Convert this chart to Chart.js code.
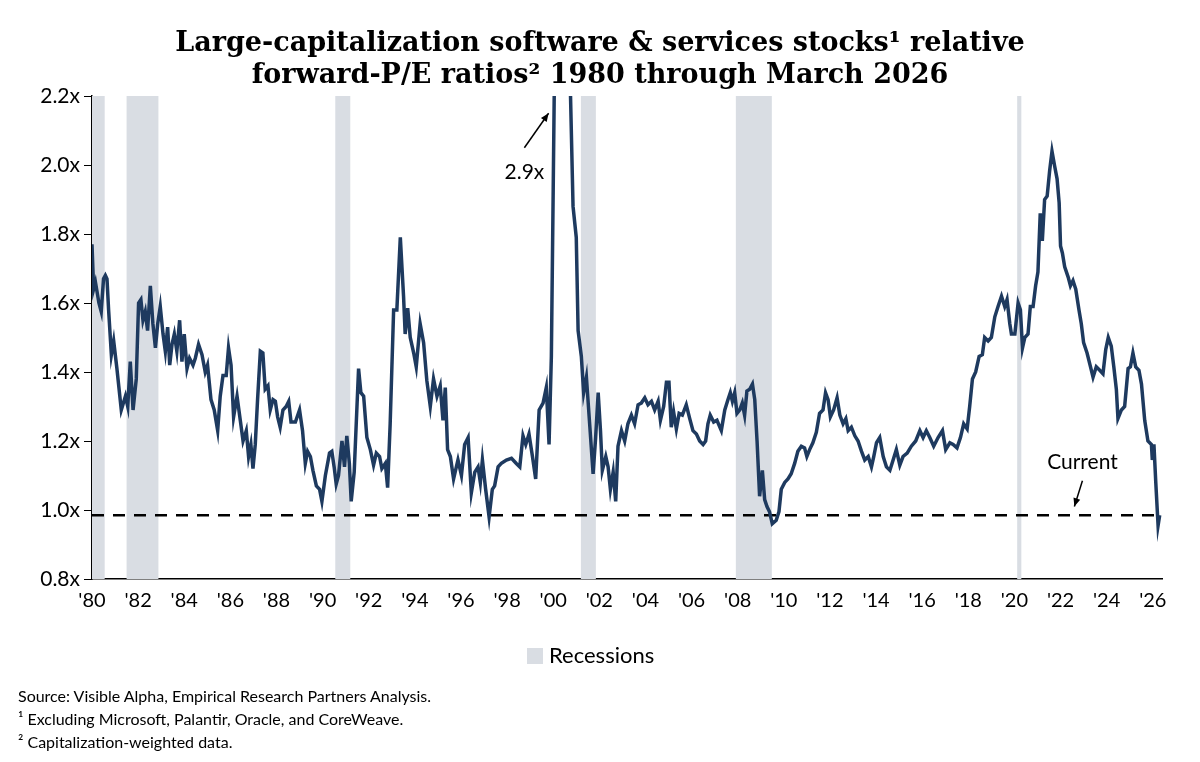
<!DOCTYPE html>
<html>
<head>
<meta charset="utf-8">
<script src="https://cdn.jsdelivr.net/npm/chart.js@4"></script>
<style>
  body { margin: 0; background: #fff; width: 1200px; height: 762px; position: relative; overflow: hidden; font-family: Lato, "DejaVu Sans", sans-serif; }
  #title { position: absolute; top: 26px; left: 0; width: 1200px; text-align: center; font-family: "DejaVu Serif", serif; font-weight: bold; font-size: 27px; line-height: 32px; color: #000; }
  #wrap { position: absolute; left: 0; top: 0; width: 1200px; height: 762px; }
  #legend { position: absolute; top: 641px; left: 527px; font-size: 22px; color: #000; }
  #legend span { display: inline-block; width: 16px; height: 16px; background: #d9dde3; margin-right: 6px; vertical-align: -1px; }
  #notes { position: absolute; left: 18px; top: 684px; font-size: 16px; line-height: 23px; color: #000; }
</style>
</head>
<body>
<div id="wrap"><canvas id="c" width="1200" height="762"></canvas></div>
<div id="title">Large-capitalization software &amp; services stocks¹ relative<br>forward-P/E ratios² 1980 through March 2026</div>
<div id="legend"><span></span>Recessions</div>
<div id="notes">Source: Visible Alpha, Empirical Research Partners Analysis.<br>¹ Excluding Microsoft, Palantir, Oracle, and CoreWeave.<br>² Capitalization-weighted data.</div>
<script>
// year (decimal) and relative forward P/E
const years = [
  1980.0,1980.07,1980.15,1980.3,1980.4,1980.5,1980.58,1980.65,1980.72,1980.84,1980.94,1981.08,1981.27,1981.45,1981.55,1981.66,1981.78,1981.92,
  1982.02,1982.12,1982.21,1982.31,1982.41,1982.53,1982.64,1982.75,1982.85,1982.96,1983.08,1983.18,1983.28,1983.37,1983.47,1983.57,1983.68,1983.8,1983.9,
  1984.0,1984.12,1984.23,1984.38,1984.48,1984.62,1984.77,1984.91,1985.01,1985.16,1985.3,1985.45,1985.56,1985.68,1985.82,1985.92,
  1986.03,1986.14,1986.29,1986.43,1986.55,1986.69,1986.79,1986.89,1986.98,1987.08,1987.18,1987.3,1987.41,1987.51,1987.63,1987.73,1987.85,1987.95,
  1988.05,1988.16,1988.28,1988.42,1988.53,1988.63,1988.82,1989.0,1989.13,1989.25,1989.35,1989.47,1989.58,1989.73,1989.87,1989.97,
  1990.12,1990.3,1990.4,1990.5,1990.59,1990.69,1990.84,1990.95,1991.05,1991.16,1991.24,1991.37,1991.56,1991.66,1991.78,1991.92,
  1992.07,1992.21,1992.33,1992.47,1992.57,1992.72,1992.82,1992.93,1993.08,1993.22,1993.37,1993.51,1993.58,1993.69,1993.8,1993.95,
  1994.06,1994.23,1994.38,1994.52,1994.67,1994.81,1994.96,1995.1,1995.22,1995.32,1995.42,1995.54,1995.68,1995.87,
  1996.02,1996.16,1996.31,1996.45,1996.6,1996.74,1996.84,1996.93,1997.07,1997.22,1997.36,1997.46,1997.61,1997.75,1997.97,
  1998.19,1998.4,1998.55,1998.69,1998.81,1998.95,1999.1,1999.24,1999.39,1999.56,1999.7,1999.82,1999.92,
  2000.0,2000.1,2000.25,2000.4,2000.55,2000.7,2000.86,2001.0,2001.08,2001.22,2001.32,2001.44,2001.58,2001.73,2001.84,2001.95,
  2002.05,2002.13,2002.28,2002.38,2002.48,2002.6,2002.71,2002.81,2002.96,2003.1,2003.24,2003.39,2003.53,2003.68,2003.82,2003.97,
  2004.11,2004.26,2004.4,2004.55,2004.65,2004.79,2004.91,2005.02,2005.12,2005.22,2005.34,2005.46,2005.6,2005.77,2005.92,
  2006.06,2006.21,2006.35,2006.5,2006.61,2006.71,2006.81,2006.96,2007.1,2007.29,2007.44,2007.58,2007.68,2007.77,2007.87,2007.97,
  2008.09,2008.2,2008.3,2008.4,2008.52,2008.64,2008.74,2008.84,2008.95,2009.07,2009.17,2009.27,2009.38,2009.5,2009.67,2009.79,2009.89,
  2010.04,2010.18,2010.32,2010.47,2010.61,2010.76,2010.9,2011.0,2011.12,2011.26,2011.41,2011.55,2011.7,2011.81,2011.92,
  2012.02,2012.16,2012.31,2012.43,2012.57,2012.69,2012.79,2012.93,2013.08,2013.22,2013.37,2013.51,2013.66,2013.8,2013.9,
  2014.02,2014.16,2014.31,2014.45,2014.6,2014.74,2014.88,2015.03,2015.17,2015.35,2015.53,2015.72,2015.9,
  2016.04,2016.18,2016.33,2016.5,2016.69,2016.88,2017.02,2017.2,2017.34,2017.51,2017.66,2017.8,2017.95,
  2018.06,2018.18,2018.32,2018.47,2018.61,2018.71,2018.86,2019.0,2019.15,2019.29,2019.44,2019.58,2019.68,2019.8,2019.87,
  2020.02,2020.16,2020.26,2020.35,2020.45,2020.59,2020.69,2020.81,2020.92,2021.02,2021.12,2021.21,2021.31,2021.42,2021.53,2021.63,2021.75,2021.85,2021.94,
  2022.0,2022.08,2022.18,2022.33,2022.43,2022.54,2022.66,2022.8,2022.9,2023.0,2023.15,2023.3,2023.41,2023.55,2023.7,2023.84,2023.96,
  2024.07,2024.2,2024.31,2024.42,2024.49,2024.64,2024.78,2024.93,2025.03,2025.14,2025.26,2025.4,2025.51,2025.65,2025.79,2025.94,2025.98,
  2026.05,2026.13,2026.23,2026.3
];
const relPE = [
  1.77,1.64,1.66,1.60,1.575,1.67,1.68,1.67,1.58,1.45,1.49,1.41,1.29,1.33,1.30,1.43,1.29,1.38,
  1.60,1.61,1.55,1.575,1.52,1.65,1.54,1.47,1.54,1.59,1.51,1.46,1.53,1.42,1.48,1.51,1.46,1.55,1.43,
  1.51,1.41,1.44,1.42,1.44,1.48,1.45,1.40,1.42,1.32,1.29,1.23,1.33,1.39,1.39,1.47,
  1.42,1.27,1.33,1.26,1.20,1.23,1.155,1.19,1.12,1.19,1.32,1.46,1.455,1.35,1.36,1.29,1.32,1.315,
  1.27,1.24,1.29,1.30,1.315,1.255,1.255,1.29,1.23,1.135,1.17,1.155,1.115,1.07,1.06,1.025,
  1.10,1.165,1.17,1.125,1.075,1.10,1.20,1.125,1.215,1.135,1.025,1.11,1.41,1.34,1.33,1.21,
  1.175,1.13,1.165,1.155,1.12,1.135,1.065,1.25,1.58,1.58,1.79,1.62,1.51,1.585,1.50,1.455,
  1.415,1.54,1.485,1.375,1.30,1.38,1.33,1.36,1.26,1.355,1.175,1.155,1.09,1.145,
  1.10,1.19,1.21,1.05,1.11,1.125,1.08,1.145,1.06,0.98,1.06,1.07,1.125,1.135,1.145,
  1.15,1.135,1.125,1.215,1.19,1.22,1.155,1.09,1.29,1.31,1.355,1.19,1.445,
  1.93,2.55,2.9,2.75,2.6,2.35,1.88,1.79,1.52,1.445,1.34,1.385,1.25,1.105,1.21,1.34,
  1.23,1.115,1.155,1.125,1.06,1.11,1.025,1.185,1.23,1.20,1.25,1.275,1.25,1.305,1.31,1.325,
  1.305,1.315,1.29,1.315,1.26,1.30,1.37,1.37,1.24,1.285,1.235,1.28,1.275,1.305,1.265,
  1.23,1.22,1.20,1.19,1.20,1.25,1.275,1.255,1.26,1.23,1.29,1.32,1.34,1.315,1.34,1.28,
  1.29,1.31,1.275,1.345,1.35,1.365,1.32,1.20,1.04,1.115,1.03,1.01,0.995,0.96,0.97,0.995,1.06,
  1.08,1.09,1.105,1.135,1.17,1.185,1.18,1.155,1.175,1.195,1.225,1.28,1.29,1.34,1.32,
  1.27,1.29,1.325,1.275,1.25,1.265,1.23,1.24,1.215,1.20,1.17,1.145,1.155,1.125,1.155,
  1.195,1.21,1.155,1.125,1.115,1.145,1.175,1.13,1.155,1.165,1.185,1.20,1.23,
  1.21,1.23,1.21,1.185,1.21,1.23,1.175,1.195,1.19,1.18,1.21,1.25,1.235,
  1.30,1.38,1.40,1.445,1.45,1.50,1.49,1.50,1.56,1.59,1.62,1.59,1.61,1.54,1.51,
  1.51,1.60,1.58,1.47,1.50,1.51,1.59,1.59,1.65,1.69,1.86,1.78,1.90,1.91,1.985,2.04,1.995,1.96,1.89,
  1.765,1.745,1.705,1.675,1.65,1.665,1.64,1.58,1.54,1.485,1.455,1.415,1.385,1.415,1.405,1.395,1.465,
  1.50,1.475,1.415,1.35,1.265,1.29,1.30,1.41,1.415,1.455,1.415,1.405,1.365,1.26,1.20,1.19,1.145,
  1.19,1.08,0.955,0.985
];
const currentLevel = 0.985;
const recessions = [[1980.0, 1980.55], [1981.5, 1982.88], [1990.55, 1991.2], [2001.2, 2001.85], [2007.92, 2009.48], [2020.12, 2020.3]];
const yTicks = [0.8, 1.0, 1.2, 1.4, 1.6, 1.8, 2.0, 2.2];

const recessionPlugin = {
  id: 'recessions',
  beforeDatasetsDraw(chart) {
    const { ctx, chartArea: a, scales: { x } } = chart;
    ctx.save();
    ctx.fillStyle = '#d9dde3';
    recessions.forEach(([s, e]) => {
      const x0 = x.getPixelForValue(s), x1 = x.getPixelForValue(e);
      ctx.fillRect(x0, a.top, x1 - x0, a.bottom - a.top);
    });
    ctx.restore();
  },
  afterDatasetsDraw(chart) {
    const { ctx, scales: { x, y } } = chart;
    ctx.save();
    ctx.fillStyle = '#000';
    ctx.strokeStyle = '#000';
    ctx.font = '21px Lato, "DejaVu Sans", sans-serif';
    ctx.textAlign = 'center';
    // 2.9x label
    ctx.fillText('2.9x', x.getPixelForValue(1998.75), y.getPixelForValue(1.96));
    arrow(ctx, x.getPixelForValue(1998.75), y.getPixelForValue(2.05), x.getPixelForValue(1999.8), y.getPixelForValue(2.15));
    // Current label
    ctx.fillText('Current', x.getPixelForValue(2022.95), y.getPixelForValue(1.12));
    arrow(ctx, x.getPixelForValue(2022.95), y.getPixelForValue(1.085), x.getPixelForValue(2022.6), y.getPixelForValue(1.01));
    ctx.restore();
  }
};

function arrow(ctx, x0, y0, x1, y1) {
  ctx.lineWidth = 1.5;
  ctx.beginPath(); ctx.moveTo(x0, y0); ctx.lineTo(x1, y1); ctx.stroke();
  const ang = Math.atan2(y1 - y0, x1 - x0), L = 9;
  ctx.beginPath();
  ctx.moveTo(x1, y1);
  ctx.lineTo(x1 - L * Math.cos(ang - 0.4), y1 - L * Math.sin(ang - 0.4));
  ctx.lineTo(x1 - L * Math.cos(ang + 0.4), y1 - L * Math.sin(ang + 0.4));
  ctx.closePath(); ctx.fill();
}

new Chart(document.getElementById('c'), {
  type: 'line',
  data: {
    datasets: [{
      data: years.map((yr, i) => ({ x: yr, y: relPE[i] })),
      borderColor: '#1e3a5f',
      borderWidth: 3.5,
      pointRadius: 0,
      tension: 0
    }, {
      data: [{ x: 1980, y: currentLevel }, { x: 2026.3, y: currentLevel }],
      borderColor: '#000',
      borderWidth: 2.5,
      borderDash: [12, 9],
      pointRadius: 0
    }]
  },
  options: {
    animation: false,
    responsive: false,
    layout: { padding: { left: 0, top: 96, right: 38, bottom: 143 } },
    scales: {
      x: {
        type: 'linear', min: 1980, max: 2026.4,
        afterBuildTicks: a => { a.ticks = []; for (let yr = 1980; yr <= 2026; yr += 2) a.ticks.push({ value: yr }); },
        afterFit: a => { a.height = 40; },
        grid: { display: false, drawTicks: false },
        border: { color: '#000', width: 1.5 },
        ticks: { color: '#000', font: { size: 20, family: 'Lato, "DejaVu Sans", sans-serif' }, padding: 10, maxRotation: 0, autoSkip: false,
          callback: v => "'" + String(v % 100).padStart(2, '0') }
      },
      y: {
        min: 0.8, max: 2.2,
        afterBuildTicks: a => { a.ticks = yTicks.map(v => ({ value: v })); },
        afterFit: a => { a.width = 92; },
        grid: { drawOnChartArea: false, tickLength: 8, color: '#000' },
        border: { color: '#000', width: 1.5 },
        ticks: { color: '#000', font: { size: 21, family: 'Lato, "DejaVu Sans", sans-serif' }, padding: 4,
          callback: v => v.toFixed(1) + 'x' }
      }
    },
    plugins: { legend: { display: false }, tooltip: { enabled: false } },
    clip: true
  },
  plugins: [recessionPlugin]
});
</script>
</body>
</html>
